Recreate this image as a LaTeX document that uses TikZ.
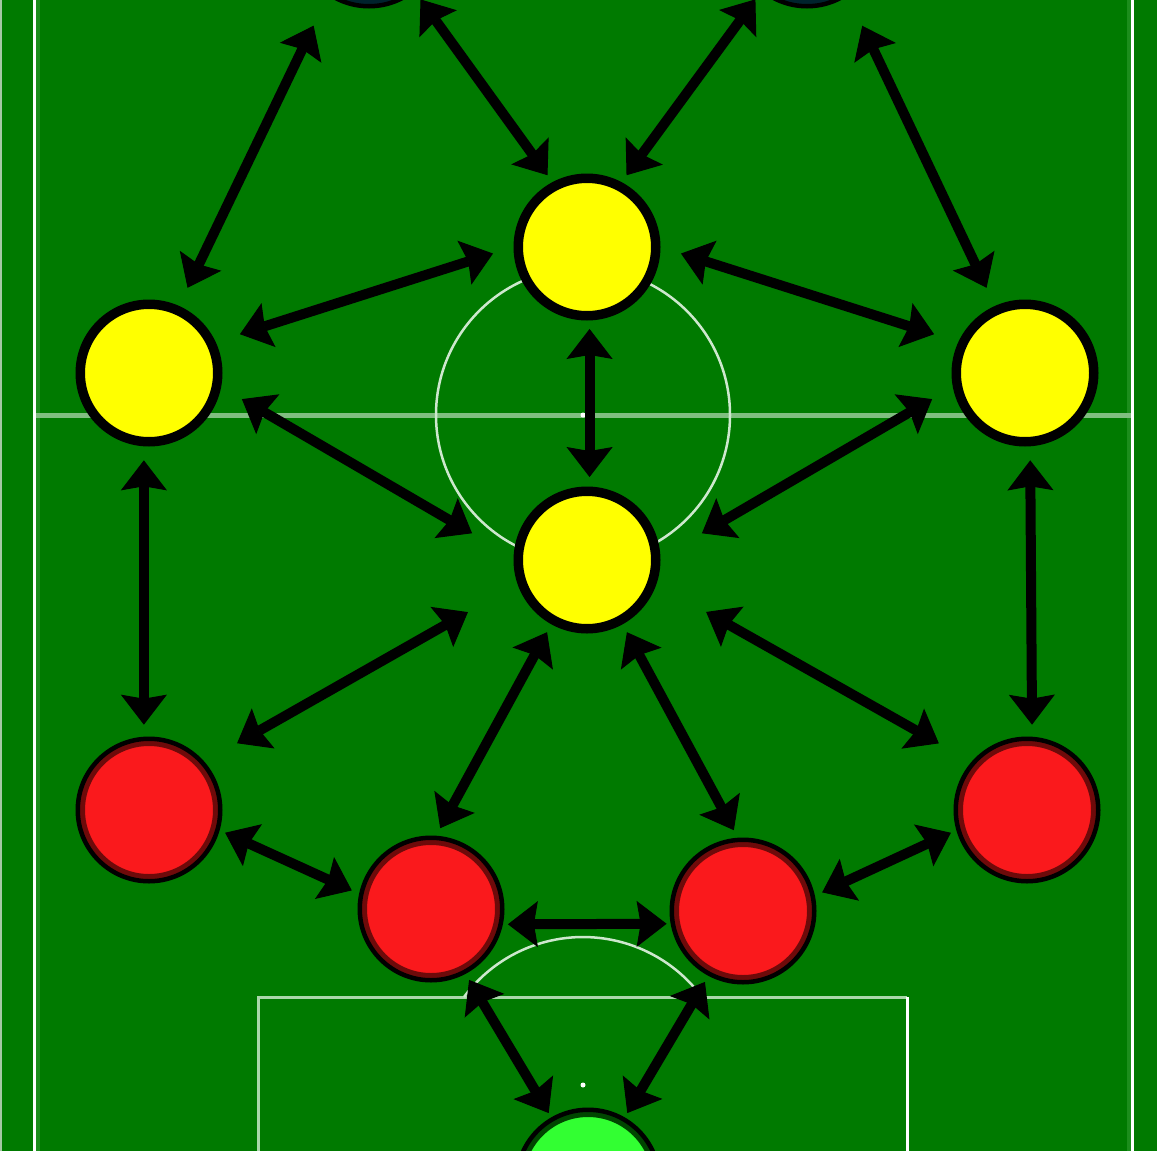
\documentclass[tikz,border=0pt]{standalone}
\usepackage{tikz}
\usetikzlibrary{arrows.meta}

\definecolor{pitchgreen}{RGB}{0,122,0}
\definecolor{edgegreen}{RGB}{28,142,28}
\definecolor{edgegrey}{RGB}{165,200,165}
\definecolor{halfline}{RGB}{128,190,128}
\definecolor{boxline}{RGB}{170,215,170}
\definecolor{circline}{RGB}{205,232,205}
\definecolor{yellowplayer}{RGB}{255,255,0}
\definecolor{redplayer}{RGB}{250,25,28}
\definecolor{rededge}{RGB}{110,10,10}
\definecolor{blueplayer}{RGB}{30,100,255}
\definecolor{blueedge}{RGB}{0,35,45}
\definecolor{keeper}{RGB}{50,255,50}
\definecolor{keeperedge}{RGB}{0,70,0}

\begin{document}
\begin{tikzpicture}[x=1pt, y=-1pt,
    player/.style 2 args={circle, inner sep=0pt, minimum size=142.5pt, draw=black, line width=4.5pt, fill=#1,
      path picture={\draw[#2, line width=10pt] (path picture bounding box.center) circle (69pt);}},
    link/.style={>={Stealth[length=30pt, width=46pt, inset=4pt, line width=1pt]}, <->, line width=10pt, black}]
    \useasboundingbox (0,0) rectangle (1157,1151);
    \clip (0,0) rectangle (1157,1151);
    % pitch
    \fill[pitchgreen] (0,0) rectangle (1157,1151);
    \fill[edgegrey] (0,0) rectangle (2,1151);
    \fill[edgegreen] (36,0) rectangle (40,1151);
    \fill[edgegreen] (1127,0) rectangle (1131,1151);
    \draw[white, line width=3pt] (34.5,0) -- (34.5,1151);
    \draw[white, line width=3pt] (1132,0) -- (1132,1151);
    \draw[halfline, line width=5pt] (36,415.5) -- (1131,415.5);
    \draw[circline, line width=2.5pt] (583,415) circle (147);
    \fill[white] (583,415) circle (2.5);
    \draw[boxline, line width=3pt] (258,1151) -- (258,997) -- (907,997);
    \draw[white, line width=3pt] (907,997) -- (907,1151);
    \draw[circline, line width=2.5pt] (464,997) arc[start angle=-143.5, end angle=-36.5, radius=148];
    \fill[white] (583,1085) circle (2.5);
    % players
    \node[player={blueplayer}{blueedge}] (bl) at (369,-65) {};
    \node[player={blueplayer}{blueedge}] (br) at (807,-65) {};
    \node[player={yellowplayer}{black}] (ly) at (149,373) {};
    \node[player={yellowplayer}{black}] (ty) at (587,247) {};
    \node[player={yellowplayer}{black}] (ry) at (1025,373) {};
    \node[player={yellowplayer}{black}] (cy) at (587,560) {};
    \node[player={redplayer}{rededge}] (lr) at (149,810) {};
    \node[player={redplayer}{rededge}] (clr) at (431,909) {};
    \node[player={redplayer}{rededge}] (crr) at (743,911) {};
    \node[player={redplayer}{rededge}] (rr) at (1027,810) {};
    \node[player={keeper}{keeperedge}] (gk) at (588,1181) {};
    % passing lanes
    \draw[link, shorten <=20pt, shorten >=33pt] (ly.66) -- (bl.236);
    \draw[link, shorten <=8.5pt, shorten >=9pt] (ty.118) -- (bl.309);
    \draw[link, shorten <=8.5pt, shorten >=9pt] (ty.62) -- (br.231);
    \draw[link, shorten <=20pt, shorten >=33pt] (ry.114) -- (br.304);
    \draw[link, shorten <=25.5pt, shorten >=21.5pt] (ly.25) -- (ty.180);
    \draw[link, shorten <=21.5pt, shorten >=25.5pt] (ty.0) -- (ry.155);
    \draw[link, shorten <=8.5pt, shorten >=9.5pt] (ty.272) -- (cy.88);
    \draw[link, shorten <=24pt, shorten >=48pt] (ly.349) -- (cy.178);
    \draw[link, shorten <=24pt, shorten >=48pt] (ry.191) -- (cy.2);
    \draw[link, shorten <=14pt, shorten >=12pt] (ly.266) -- (lr.94);
    \draw[link, shorten <=14pt, shorten >=12pt] (ry.274) -- (rr.86);
    \draw[link, shorten <=57pt, shorten >=37.5pt] (cy.199) -- (lr.41);
    \draw[link, shorten <=57pt, shorten >=37.5pt] (cy.341) -- (rr.139);
    \draw[link, shorten <=9pt, shorten >=8.5pt] (cy.241) -- (clr.86);
    \draw[link, shorten <=9pt, shorten >=8.5pt] (cy.299) -- (crr.94);
    \draw[link, shorten <=6pt, shorten >=8pt] (lr.344) -- (clr.168);
    \draw[link, shorten <=5pt, shorten >=4pt] (clr.348) -- (crr.190);
    \draw[link, shorten <=8pt, shorten >=6pt] (crr.12) -- (rr.196);
    \draw[link, shorten <=7pt, shorten >=5pt] (clr.298) -- (gk.120);
    \draw[link, shorten <=7pt, shorten >=5pt] (crr.242) -- (gk.60);
\end{tikzpicture}
\end{document}
